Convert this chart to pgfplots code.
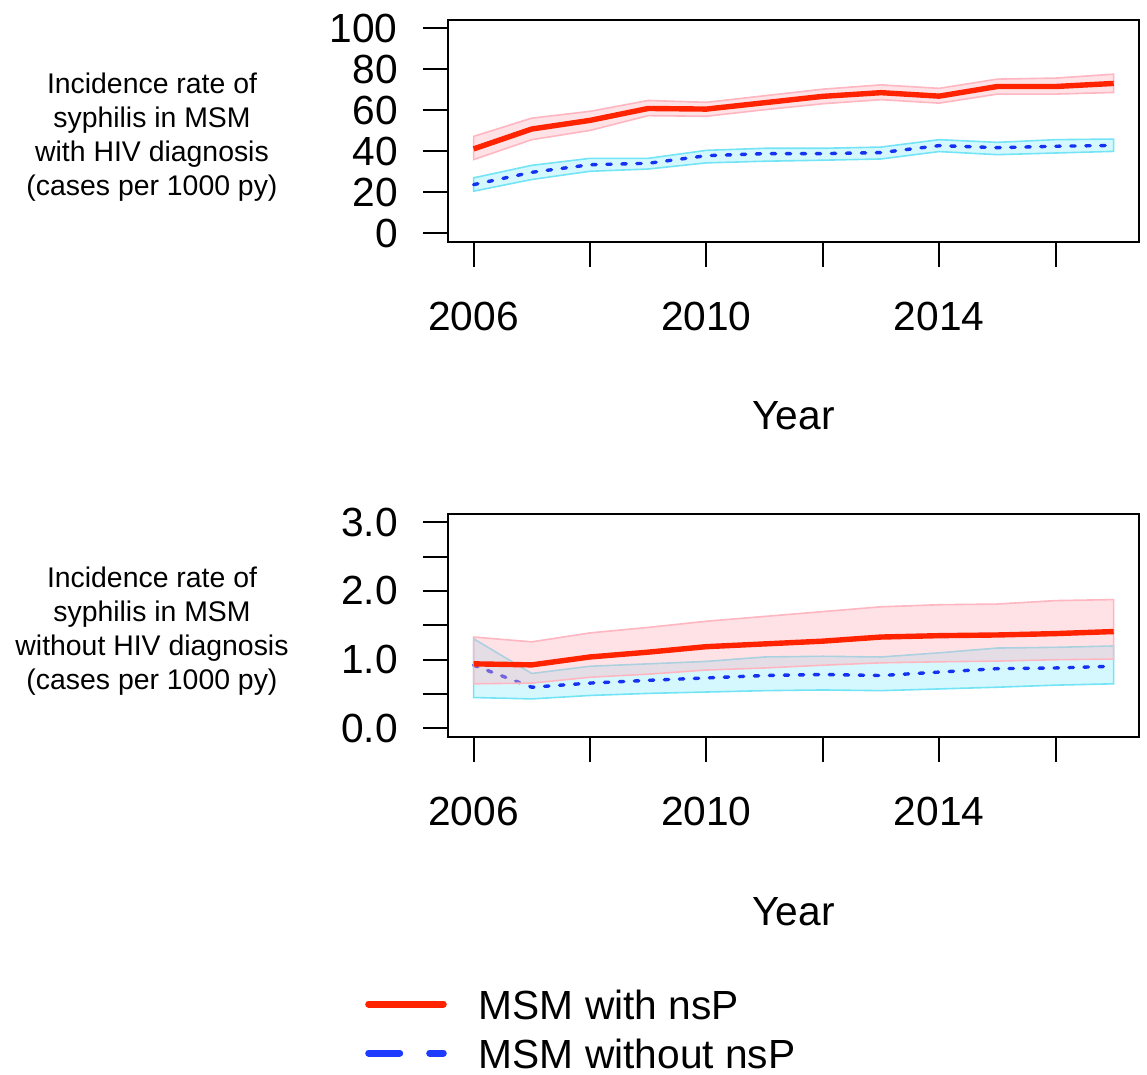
\documentclass[border=0pt]{standalone}
\usepackage{pgfplots}
\pgfplotsset{compat=1.18}
\usepackage{fontspec}
\setmainfont{Liberation Sans}
\definecolor{mainred}{RGB}{255,35,0}
\definecolor{mainblue}{RGB}{20,50,240}
\definecolor{legendblue}{RGB}{30,60,255}
\definecolor{pinkband}{RGB}{255,182,193}
\definecolor{cyanband}{RGB}{150,238,252}
\definecolor{cyanline}{RGB}{115,228,245}

\pgfplotsset{
 myaxis/.style={
  scale only axis, width=345.65pt,
  xmin=2005.56, xmax=2017.44,
  xtick={2006,2008,2010,2012,2014,2016},
  xticklabels={2006,,2010,,2014,},
  tick align=outside, xtick pos=left, ytick pos=left,
  major tick length=12.5pt,
  every tick/.style={black, line width=1pt},
  axis line style={line width=1pt},
  tick label style={font=\fontsize{20.35}{24}\selectfont},
  xticklabel style={anchor=north, inner sep=0pt, yshift=-17.5pt},
  yticklabel style={anchor=east, inner sep=0pt, xshift=-12.5pt},
  xlabel={Year},
  every axis x label/.style={at={(axis description cs:0.5,0)}, anchor=base, yshift=-94.15pt, font=\fontsize{20.35}{24}\selectfont},
  every axis y label/.style={at={(axis description cs:0,0.5)}, anchor=center, xshift=-148pt, yshift=-3pt, align=center, font=\fontsize{14.2}{17}\selectfont},
 },
 redband/.style={draw=pinkband, line width=0.8pt, fill=pinkband, fill opacity=0.4, forget plot},
 blueband/.style={draw=cyanline, line width=0.8pt, fill=cyanband, fill opacity=0.4, forget plot},
 redmean/.style={mainred, line width=2.7pt, line join=round, forget plot},
 bluemean/.style={mainblue, line width=1.7pt, line cap=round, dash pattern=on 2.2pt off 5.3pt, forget plot},
}

\begin{document}
\begin{tikzpicture}
\path (0,0) rectangle (573.5pt,-537.5pt);

% ---------------- top panel ----------------
\begin{axis}[myaxis,
  at={(224pt,-10pt)}, anchor=north west,
  height=110.85pt,
  ymin=-4, ymax=104,
  ytick={0,20,40,60,80,100},
  yticklabels={0,20,40,60,80,100},
  ylabel={Incidence rate of\\syphilis in MSM\\with HIV diagnosis\\(cases per 1000 py)},
]
\addplot[blueband] coordinates {
 (2006,27.1) (2007,33.2) (2008,36.6) (2009,36.6) (2010,40.5) (2011,41.5)
 (2012,41.5) (2013,42.1) (2014,45.7) (2015,44.4) (2016,45.7) (2017,46.0)
 (2017,40.0) (2016,39.2) (2015,38.4) (2014,39.9) (2013,36.3) (2012,35.7)
 (2011,35.2) (2010,34.4) (2009,31.4) (2008,30.3) (2007,26.3) (2006,20.6)
} -- cycle;
\addplot[bluemean] coordinates {
 (2006,23.8) (2007,29.8) (2008,33.5) (2009,34.2) (2010,37.9) (2011,38.9)
 (2012,38.9) (2013,39.4) (2014,42.8) (2015,41.8) (2016,42.5) (2017,42.9)
};
\addplot[redband] coordinates {
 (2006,47.3) (2007,56.2) (2008,59.5) (2009,64.8) (2010,63.9) (2011,67.1)
 (2012,70.3) (2013,72.4) (2014,70.7) (2015,75.2) (2016,75.7) (2017,77.6)
 (2017,68.7) (2016,67.9) (2015,67.9) (2014,63.5) (2013,65.2) (2012,63.2)
 (2011,60.3) (2010,57.1) (2009,57.4) (2008,50.2) (2007,45.7) (2006,36.0)
} -- cycle;
\addplot[redmean] coordinates {
 (2006,41.2) (2007,50.9) (2008,55.1) (2009,60.9) (2010,60.6) (2011,63.7)
 (2012,66.8) (2013,68.6) (2014,66.9) (2015,71.6) (2016,71.6) (2017,73.1)
};
\end{axis}

% ---------------- bottom panel ----------------
\begin{axis}[myaxis,
  at={(224pt,-257pt)}, anchor=north west,
  height=111.35pt,
  ymin=-0.12, ymax=3.12,
  ytick={0,0.5,1,1.5,2,2.5,3},
  yticklabels={0.0,,1.0,,2.0,,3.0},
  ylabel={Incidence rate of\\syphilis in MSM\\without HIV diagnosis\\(cases per 1000 py)},
  legend style={draw=none, fill=none, inner sep=0pt, outer sep=0pt,
    at={(-0.11977,-1.1329)}, anchor=north west,
    font=\fontsize{20.35}{24}\selectfont, row sep=9.5pt,
    nodes={inner sep=0pt, text height=15pt, text depth=0pt},
    /tikz/every odd column/.append style={column sep=16pt}},
  legend cell align=left,
  legend image code/.code={\draw[#1] (0pt,0pt) -- (37.3pt,0pt);},
]
\addplot[blueband] coordinates {
 (2006,1.305) (2007,0.80) (2008,0.905) (2009,0.94) (2010,0.975) (2011,1.04)
 (2012,1.05) (2013,1.04) (2014,1.10) (2015,1.17) (2016,1.18) (2017,1.20)
 (2017,0.65) (2016,0.63) (2015,0.60) (2014,0.575) (2013,0.55) (2012,0.56)
 (2011,0.55) (2010,0.53) (2009,0.51) (2008,0.48) (2007,0.43) (2006,0.45)
} -- cycle;
\addplot[bluemean] coordinates {
 (2006,0.92) (2007,0.60) (2008,0.66) (2009,0.70) (2010,0.735) (2011,0.77)
 (2012,0.785) (2013,0.77) (2014,0.82) (2015,0.87) (2016,0.88) (2017,0.905)
};
\addplot[redband] coordinates {
 (2006,1.33) (2007,1.26) (2008,1.39) (2009,1.47) (2010,1.56) (2011,1.63)
 (2012,1.70) (2013,1.77) (2014,1.80) (2015,1.81) (2016,1.86) (2017,1.875)
 (2017,1.01) (2016,1.00) (2015,0.98) (2014,0.97) (2013,0.955) (2012,0.92)
 (2011,0.88) (2010,0.85) (2009,0.79) (2008,0.745) (2007,0.66) (2006,0.65)
} -- cycle;
\addplot[redmean] coordinates {
 (2006,0.94) (2007,0.925) (2008,1.04) (2009,1.11) (2010,1.19) (2011,1.23)
 (2012,1.27) (2013,1.33) (2014,1.35) (2015,1.36) (2016,1.38) (2017,1.41)
};
\addlegendimage{mainred, line width=3.5pt, line cap=round}
\addlegendentry{MSM with nsP}
\addlegendimage{legendblue, line width=3.5pt, line cap=round, dash pattern=on 15.5pt off 15pt}
\addlegendentry{MSM without nsP}
\end{axis}
\end{tikzpicture}
\end{document}
